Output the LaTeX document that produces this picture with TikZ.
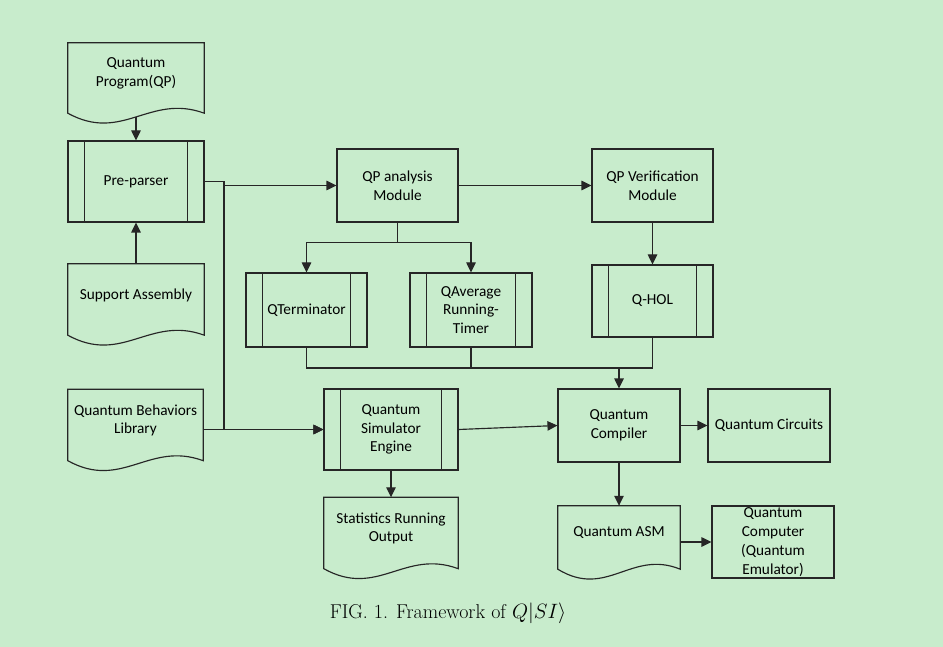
\documentclass[tikz,border=0pt]{standalone}
\usepackage{fontspec}
\newfontfamily\boxfont{Carlito}
\usetikzlibrary{arrows.meta,calc}
\definecolor{bg}{RGB}{200,236,204}
\newcommand\docout[1]{\draw[ln] (#1.north west) -- (#1.north east) -- ($(#1.south east)+(0,9)$) .. controls ($(#1.south west)!0.6!(#1.south east)+(0,-11)$) and ($(#1.south west)!0.4!(#1.south east)+(0,39)$) .. ($(#1.south west)+(0,9)$) -- cycle;}
\tikzset{
  ln/.style={line width=1.15pt, draw=black!85},
  arr/.style={ln, -{Triangle[length=10pt,width=9.5pt]}},
  txt/.style={font=\boxfont\fontsize{15.3}{18.8}\selectfont, align=center, inner sep=0pt, text=black},
  rectbox/.style={txt, draw, ln, rectangle},
  procbox/.style={rectbox, path picture={
     \draw[ln] ([xshift=16.5pt]path picture bounding box.north west) -- ([xshift=16.5pt]path picture bounding box.south west);
     \draw[ln] ([xshift=-16.5pt]path picture bounding box.north east) -- ([xshift=-16.5pt]path picture bounding box.south east);}},
  docbox/.style={txt, rectangle}
}
\begin{document}
\begin{tikzpicture}[x=1pt,y=-1pt]
\fill[bg] (0,0) rectangle (943,647);
\useasboundingbox (0,0) rectangle (943,647);

\node[docbox, minimum width=136, minimum height=61] (qp) at (136,73.5) {Quantum\\Program(QP)};
\docout{qp}
\node[procbox, minimum width=136, minimum height=81] (pre) at (136,181.5) {Pre-parser};
\node[docbox, minimum width=136, minimum height=62] (sup) at (136,295) {Support Assembly};
\docout{sup}
\node[rectbox, minimum width=121, minimum height=73] (qpa) at (397.5,185.5) {QP analysis\\Module};
\node[rectbox, minimum width=121, minimum height=73] (qpv) at (652.5,185.5) {QP Verification\\Module};
\node[procbox, minimum width=121, minimum height=74] (qterm) at (306.5,310) {QTerminator};
\node[procbox, minimum width=122, minimum height=74] (qavg) at (471,310) {QAverage\\Running-\\Timer};
\node[procbox, minimum width=121, minimum height=72] (qhol) at (652.5,301) {Q-HOL};
\node[docbox, minimum width=135, minimum height=62] (lib) at (135.5,420.5) {Quantum Behaviors\\Library};
\docout{lib}
\node[procbox, minimum width=134, minimum height=81] (sim) at (391,429.5) {Quantum\\Simulator\\Engine};
\node[docbox, minimum width=134, minimum height=62] (stat) at (391,528.5) {Statistics Running\\Output};
\docout{stat}
\node[rectbox, minimum width=122, minimum height=73] (comp) at (619,425.5) {Quantum\\Compiler};
\node[rectbox, minimum width=122, minimum height=73] (circ) at (769,425.5) {Quantum Circuits};
\node[docbox, minimum width=122, minimum height=54] (asm) at (619,533) {Quantum ASM};
\docout{asm}
\node[rectbox, minimum width=122, minimum height=72] (qc) at (773,542) {Quantum\\Computer\\(Quantum\\Emulator)};

\node[font=\fontsize{20}{24}\selectfont, inner sep=0pt] (cap) at (448,613.5) {FIG.~1. Framework of $Q|SI\rangle$};

\coordinate (split) at (224,185.5);
\coordinate (merge) at (619,368);
\coordinate (qpb) at ($(qp.south)+(0,13)$);

\draw[arr] (qpb) -- (pre.north);
\draw[arr] (sup.north) -- (pre.south);
\draw[ln] (pre.east) -| (split);
\draw[arr] (split) -- (qpa.west);
\draw[arr] (split) |- (sim.west);
\draw[arr] (lib.east |- sim.west) -- (sim.west);
\draw[arr] (qpa.east) -- (qpv.west);
\draw[arr] (qpa.south) -- ++(0,20) -| (qterm.north);
\draw[arr] (qpa.south) -- ++(0,20) -| (qavg.north);
\draw[arr] (qpv.south) -- (qhol.north);
\draw[ln] (qterm.south) |- (merge);
\draw[ln] (qavg.south) |- (merge);
\draw[ln] (qhol.south) |- (merge);
\draw[arr] (merge) -- (comp.north);
\draw[arr] (sim.east) -- (comp.west);
\draw[arr] (sim.south) -- (stat.north);
\draw[arr] (comp.east) -- (circ.west);
\draw[arr] (comp.south) -- (asm.north);
\draw[arr] (asm.east |- qc.west) -- (qc.west);
\end{tikzpicture}
\end{document}
